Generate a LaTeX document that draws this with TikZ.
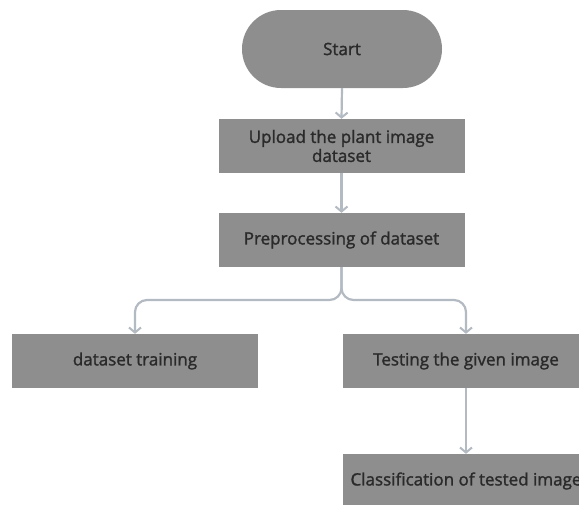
\documentclass[tikz,border=0pt]{standalone}
\usepackage{fontspec}
\setmainfont{Open Sans}[FakeBold=1.5]
\usetikzlibrary{arrows.meta}
\definecolor{boxgray}{HTML}{8E8E8E}
\definecolor{txtgray}{HTML}{2A2A2A}
\definecolor{arrgray}{HTML}{B3BAC2}
\begin{document}
\begin{tikzpicture}[x=1pt,y=-1pt,
  box/.style={fill=boxgray,draw=none,minimum width=246pt,minimum height=54pt,
    inner sep=0pt,align=center,text=txtgray,font=\fontsize{17}{19}\selectfont},
  conn/.style={draw=arrgray,line width=2.2pt,-{Straight Barb[length=5pt,width=12pt,line width=2pt]}},
  branch/.style={conn,rounded corners=12pt}]
\useasboundingbox (0,0) rectangle (579,504);
\clip (0,0) rectangle (579,504);
\node[box,minimum height=78pt,rounded corners=39pt,minimum width=200pt] (start) at (342,49) {Start};
\node[box] (upload) at (341.5,146) {Upload the plant image\\dataset};
\node[box] (pre) at (341.5,240) {Preprocessing of dataset};
\node[box] (train) at (135,361) {dataset training};
\node[box] (test) at (466,361) {Testing the given image};
\node[box] (class) at (466,481) {Classification of tested image};
\draw[conn] (start.south) -- (upload.north);
\draw[conn] (upload.south) -- (pre.north);
\coordinate (jl) at (pre.south |- 0,300);
\draw[branch] (pre.south) -- (jl) -| (train.north);
\draw[branch] (pre.south) -- (jl) -| (test.north);
\draw[conn] (test.south) -- (class.north);
\end{tikzpicture}
\end{document}
